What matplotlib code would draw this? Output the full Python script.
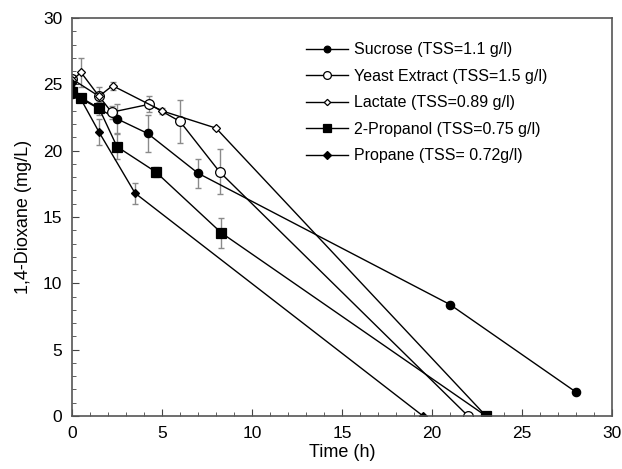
import matplotlib.pyplot as plt
from matplotlib.ticker import MultipleLocator

plt.rcParams['font.family'] = ['Liberation Sans', 'DejaVu Sans']

# Sucrose (TSS=1.1 g/l)
suc_t = [0, 2.5, 4.2, 7, 21, 28]
suc_c = [24.3, 22.4, 21.3, 18.3, 8.4, 1.8]
suc_err = [0, 1.1, 1.4, 1.1, 0.2, 0]

# Yeast Extract (TSS=1.5 g/l)
yst_t = [0, 1.5, 2.2, 4.3, 6, 8.2, 22]
yst_c = [25.4, 24.1, 22.9, 23.5, 22.2, 18.4, 0]
yst_err = [0.3, 0.7, 0.5, 0.6, 1.6, 1.7, 0]

# Lactate (TSS=0.89 g/l)
lac_t = [0, 0.5, 1.5, 2.25, 5, 8, 23]
lac_c = [25.3, 25.9, 24.1, 24.9, 23.0, 21.7, 0]
lac_err = [0.3, 1.1, 0.3, 0.3, 0.2, 0.1, 0]

# 2-Propanol (TSS=0.75 g/l)
pro_t = [0, 0.5, 1.5, 2.5, 4.65, 8.3, 23]
pro_c = [24.4, 24.0, 23.2, 20.3, 18.4, 13.8, 0]
pro_err = [0.3, 0.3, 0.5, 0.95, 0.4, 1.15, 0]

# Propane (TSS= 0.72g/l)
pne_t = [0, 1.5, 3.5, 19.5]
pne_c = [25.1, 21.4, 16.8, 0]
pne_err = [0.2, 1.0, 0.8, 0]

fig = plt.figure(figsize=(6.22, 4.69), dpi=100)
ax = fig.add_axes([0.1158, 0.113, 0.8682, 0.8486])

series = [
    (suc_t, suc_c, suc_err, 'o', 'black', 6, 'Sucrose (TSS=1.1 g/l)'),
    (yst_t, yst_c, yst_err, 'o', 'white', 7, 'Yeast Extract (TSS=1.5 g/l)'),
    (lac_t, lac_c, lac_err, 'D', 'white', 4, 'Lactate (TSS=0.89 g/l)'),
    (pro_t, pro_c, pro_err, 's', 'black', 7, '2-Propanol (TSS=0.75 g/l)'),
    (pne_t, pne_c, pne_err, 'D', 'black', 4.5, 'Propane (TSS= 0.72g/l)'),
]

for t, c, err, mk, fc, ms, lab in series:
    ax.errorbar(t, c, yerr=err, fmt='none', ecolor='#8a8a8a', elinewidth=1,
                capsize=2.5, capthick=1, zorder=1)
    ax.plot(t, c, color='black', lw=1, marker=mk, markerfacecolor=fc,
            markeredgecolor='black', markeredgewidth=0.9, markersize=ms,
            label=lab, zorder=2)

ax.set_xlim(0, 30)
ax.set_ylim(0, 30)
ax.xaxis.set_major_locator(MultipleLocator(5))
ax.xaxis.set_minor_locator(MultipleLocator(1))
ax.yaxis.set_major_locator(MultipleLocator(5))
ax.yaxis.set_minor_locator(MultipleLocator(1))
ax.tick_params(which='both', direction='in', labelsize=12.5, color='#444444')
ax.tick_params(which='major', length=5, pad=7)
ax.tick_params(which='minor', length=3)
for sp in ax.spines.values():
    sp.set_color('#555555')
    sp.set_linewidth(1.2)

ax.set_xlabel('Time (h)', fontsize=13, labelpad=2)
ax.set_ylabel('1,4-Dioxane (mg/L)', fontsize=13, labelpad=8)

ax.legend(loc='upper right', bbox_to_anchor=(0.907, 0.975), frameon=False,
          fontsize=11.5, handlelength=2.6, labelspacing=0.72, markerscale=0.8,
          handletextpad=0.4)

plt.savefig('out.png', dpi=100)
